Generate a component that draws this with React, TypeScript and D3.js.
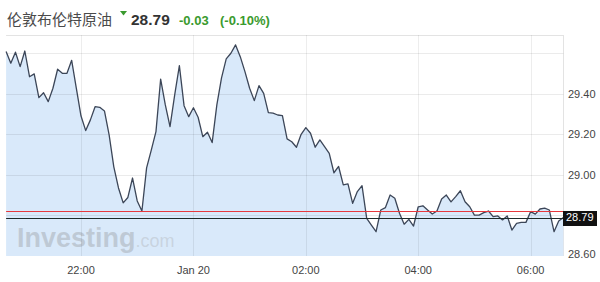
import React from "react";
import * as d3 from "d3";

const W = 600;
const H = 282;

const titleText = "伦敦布伦特原油";
const lastText = "28.79";
const changeText = "-0.03";
const changePctText = "(-0.10%)";

const startTime = new Date(2016, 0, 19, 20, 40);
const stepMinutes = 5;

const prices: number[] = [
  29.609, 29.552, 29.606, 29.535, 29.612, 29.485, 29.499, 29.382, 29.406, 29.362,
  29.428, 29.522, 29.502, 29.502, 29.566, 29.428, 29.291, 29.219, 29.272, 29.337,
  29.334, 29.316, 29.198, 29.04, 28.936, 28.862, 28.889, 28.985, 28.872, 28.822,
  29.035, 29.123, 29.214, 29.473, 29.346, 29.239, 29.395, 29.54, 29.342, 29.288,
  29.332, 29.285, 29.189, 29.211, 29.16, 29.346, 29.479, 29.573, 29.601, 29.642,
  29.584, 29.51, 29.428, 29.367, 29.441, 29.403, 29.308, 29.305, 29.296, 29.293,
  29.178, 29.164, 29.137, 29.201, 29.234, 29.206, 29.137, 29.173, 29.14, 29.107,
  29.011, 29.042, 28.951, 28.956, 28.86, 28.918, 28.947, 28.786, 28.753, 28.72,
  28.827, 28.839, 28.901, 28.885, 28.811, 28.757, 28.781, 28.748, 28.843, 28.848,
  28.827, 28.807, 28.822, 28.881, 28.901, 28.867, 28.893, 28.922, 28.868, 28.843,
  28.802, 28.802, 28.814, 28.822, 28.794, 28.798, 28.778, 28.798, 28.728, 28.761,
  28.766, 28.766, 28.819, 28.807, 28.832, 28.836, 28.827, 28.72, 28.773, 28.79,
];

const lastPrice = 28.79;
const prevClose = 28.82;

const yTickValues = [29.4, 29.2, 29.0, 28.6];
const yGridValues = [29.6, 29.4, 29.2, 29.0, 28.8];
const xTickTimes = [
  new Date(2016, 0, 19, 22, 0),
  new Date(2016, 0, 20, 0, 0),
  new Date(2016, 0, 20, 2, 0),
  new Date(2016, 0, 20, 4, 0),
  new Date(2016, 0, 20, 6, 0),
];
const xTickLabels = ["22:00", "Jan 20", "02:00", "04:00", "06:00"];

export default function App() {
  const data = prices.map((p, i) => ({
    t: new Date(startTime.getTime() + i * stepMinutes * 60000),
    v: p,
  }));
  const endTime = data[data.length - 1].t;

  const left = 6.1;
  const right = 563.4;
  const top = 35;
  const bottom = 256;

  const x = d3.scaleTime().domain([startTime, endTime]).range([left, right]);
  const y = d3.scaleLinear().domain([28.6, 29.691]).range([bottom, top]);
  const crisp = (v: number) => Math.round(v) + 0.5;

  const area = d3
    .area<{ t: Date; v: number }>()
    .x((d) => x(d.t))
    .y0(bottom)
    .y1((d) => y(d.v));
  const line = d3
    .line<{ t: Date; v: number }>()
    .x((d) => x(d.t))
    .y((d) => y(d.v));

  const font = "Arial, 'Liberation Sans', sans-serif";
  const green = "#3a9a2e";

  return (
    <svg
      width={W}
      height={H}
      style={{ position: "absolute", left: 0, top: 0, background: "#fff" }}
      fontFamily={font}
    >
      {/* title */}
      <text x={7} y={25} fontSize={15} fill="#4a4a4a" fontFamily="'Noto Sans CJK SC', sans-serif">
        {titleText}
      </text>
      <path d="M120,11 L127,11 L123.5,15.5 Z" fill={green} />
      <text x={131} y={25} fontSize={15.5} fontWeight="bold" fill="#333">
        {lastText}
      </text>
      <text x={179} y={25} fontSize={13} fontWeight="bold" fill={green}>
        {changeText}
      </text>
      <text x={220} y={25} fontSize={13} fontWeight="bold" fill={green}>
        {changePctText}
      </text>

      {/* frame */}
      <line x1={left} x2={right} y1={crisp(top)} y2={crisp(top)} stroke="#e3e3e3" />
      <line x1={crisp(right)} x2={crisp(right)} y1={top} y2={bottom} stroke="#e3e3e3" />

      {/* area */}
      <path d={area(data) || ""} fill="#d9e9fa" />

      {/* watermark */}
      <text x={17} y={247} fontSize={27} fontWeight="bold" fill="#b9c4cf" fillOpacity={0.85}>
        Investing
        <tspan fontSize={18} fontWeight="normal" fill="#c6d0db">.com</tspan>
      </text>

      {/* grid */}
      {yGridValues.map((v) => (
        <line key={"g" + v} x1={left} x2={right} y1={crisp(y(v))} y2={crisp(y(v))} stroke="#000" strokeOpacity={0.08} />
      ))}
      {xTickTimes.map((t, i) => (
        <line key={"xg" + i} x1={crisp(x(t))} x2={crisp(x(t))} y1={top} y2={bottom} stroke="#000" strokeOpacity={0.07} />
      ))}

      {/* line */}
      <path d={line(data) || ""} fill="none" stroke="#3c4658" strokeWidth={1.3} strokeLinejoin="round" />

      {/* previous close & last */}
      <line x1={left} x2={right} y1={crisp(y(prevClose))} y2={crisp(y(prevClose))} stroke="#e8383d" strokeWidth={1.1} />
      <line x1={left} x2={right} y1={crisp(y(lastPrice))} y2={crisp(y(lastPrice))} stroke="#1e2a2a" strokeWidth={1.2} />

      {/* y axis labels */}
      {yTickValues.map((v) => (
        <text
          key={"yt" + v}
          x={568}
          y={v === 28.6 ? y(v) - 2 : y(v)}
          dy="0.35em"
          fontSize={11}
          fill="#444"
        >
          {v.toFixed(2)}
        </text>
      ))}
      <rect x={563} y={Math.round(y(lastPrice)) - 7} width={34} height={15} fill="#111" />
      <text x={566} y={y(lastPrice)} dy="0.35em" fontSize={11} fill="#fff">
        {lastPrice.toFixed(2)}
      </text>

      {/* x axis labels */}
      {xTickTimes.map((t, i) => (
        <text key={"xt" + i} x={x(t)} y={274} textAnchor="middle" fontSize={11} fill="#444">
          {xTickLabels[i]}
        </text>
      ))}
    </svg>
  );
}
